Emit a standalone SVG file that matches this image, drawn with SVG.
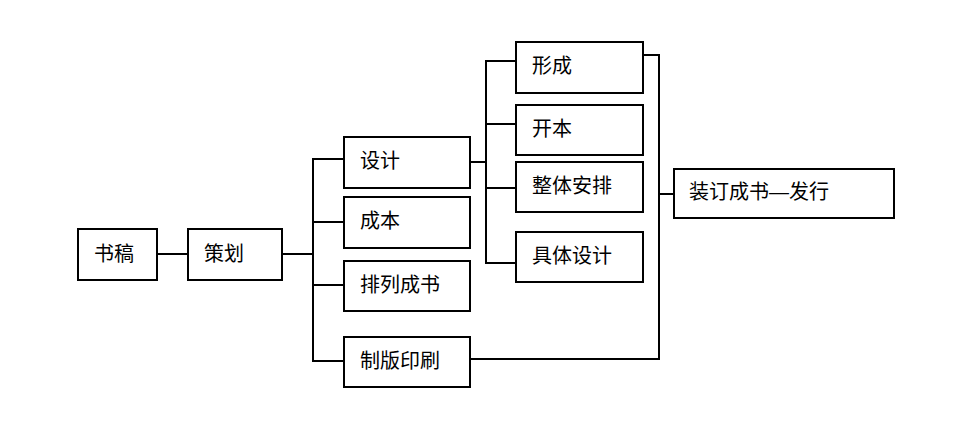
<svg xmlns="http://www.w3.org/2000/svg" width="968" height="427" viewBox="0 0 968 427">
<style>
rect{fill:#fff;stroke:#000;stroke-width:2}
text{font-family:"Liberation Sans","Noto Sans CJK SC",sans-serif;font-size:20px;fill:#000}
.c{fill:none;stroke:#000;stroke-width:2}
</style>
<rect x="0" y="0" width="968" height="427" style="stroke:none"/>
<g id="connectors">
<path class="c" d="M157 254H188"/>
<path class="c" d="M282 254H313"/>
<path class="c" d="M344 159H313V361H344M313 222H344M313 285H344"/>
<path class="c" d="M470 162H486"/>
<path class="c" d="M516 61H486V263H516M486 124H516M486 188H516"/>
<path class="c" d="M643 55H659V359H470M659 194H674"/>
</g>
<g id="n1"><rect x="78" y="229" width="79" height="51"/><text x="94" y="261">书稿</text></g>
<g id="n2"><rect x="188" y="229" width="94" height="51"/><text x="204" y="261">策划</text></g>
<g id="n3"><rect x="344" y="137" width="126" height="51"/><text x="360" y="168">设计</text></g>
<g id="n4"><rect x="344" y="197" width="126" height="51"/><text x="360" y="228">成本</text></g>
<g id="n5"><rect x="344" y="261" width="126" height="50"/><text x="360" y="292">排列成书</text></g>
<g id="n6"><rect x="344" y="337" width="126" height="50"/><text x="360" y="368">制版印刷</text></g>
<g id="n7"><rect x="516" y="42" width="127" height="51"/><text x="532" y="73">形成</text></g>
<g id="n8"><rect x="516" y="105" width="127" height="50"/><text x="532" y="136">开本</text></g>
<g id="n9"><rect x="516" y="162" width="127" height="50"/><text x="532" y="193">整体安排</text></g>
<g id="n10"><rect x="516" y="232" width="127" height="50"/><text x="532" y="263">具体设计</text></g>
<g id="n11"><rect x="674" y="169" width="220" height="49"/><text x="689" y="199">装订成书—发行</text></g>
</svg>
